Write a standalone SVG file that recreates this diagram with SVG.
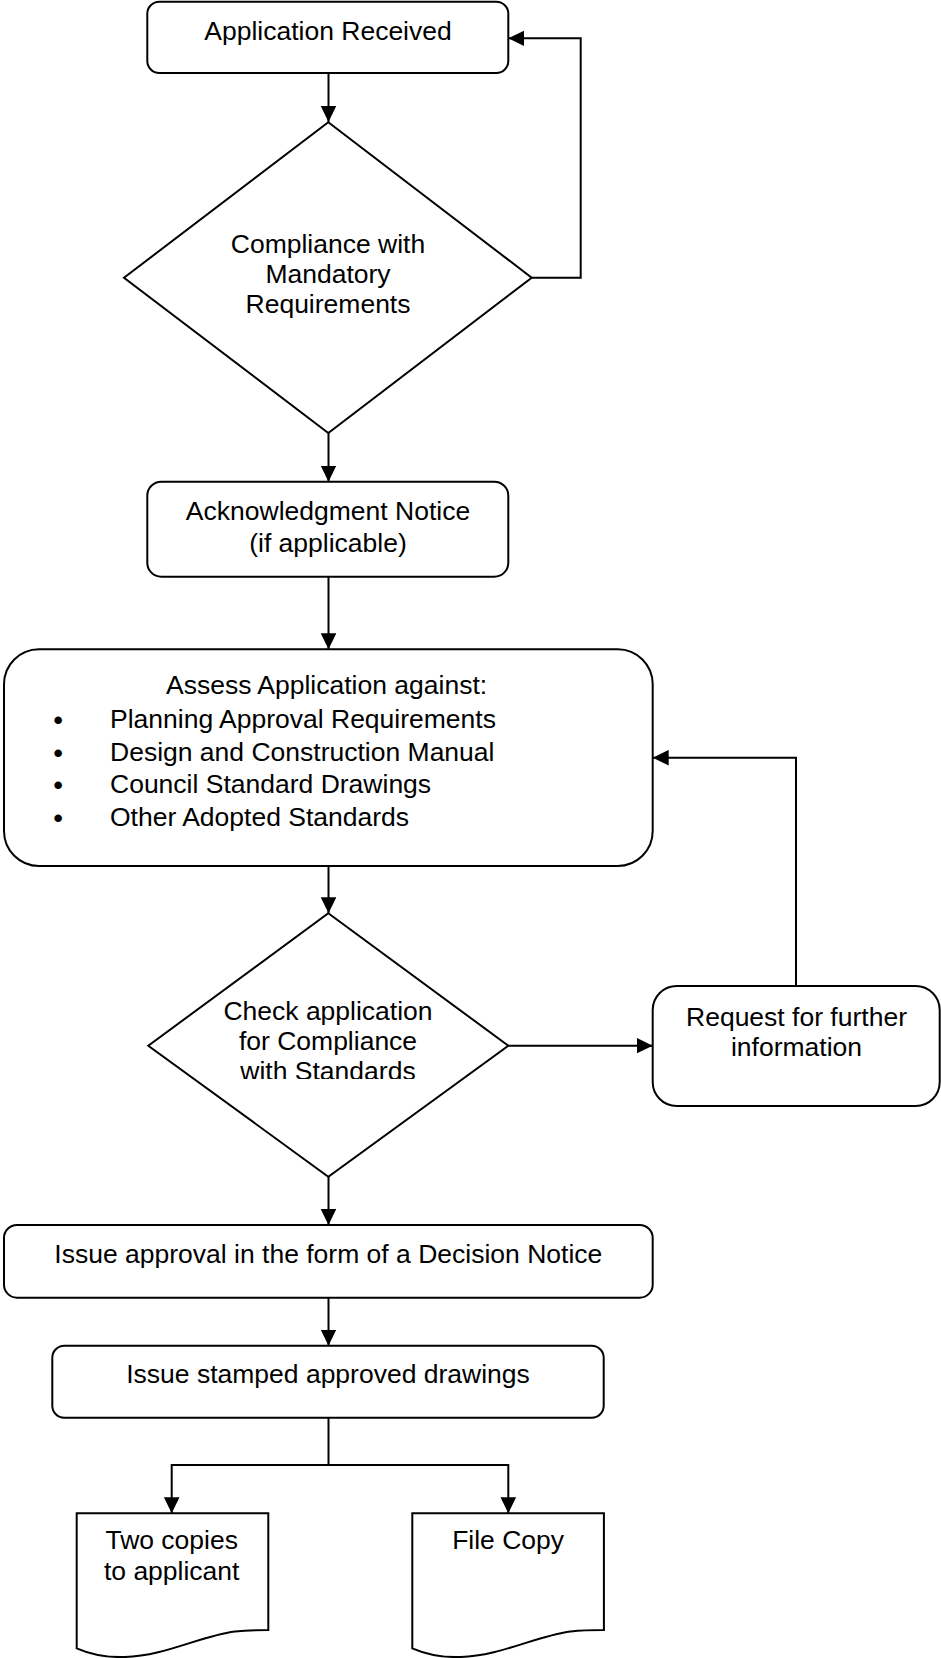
<svg xmlns="http://www.w3.org/2000/svg" width="941" height="1658" viewBox="0 0 941 1658">
<style>
.box{fill:#fff;stroke:#000;stroke-width:2}
.t{font-family:"Liberation Sans",Arial,sans-serif;font-size:26.5px;fill:#000}
.c{text-anchor:middle}
.b{font-weight:bold}
.ln{fill:none;stroke:#000;stroke-width:2}
</style>
<defs>
<marker id="ah" markerUnits="userSpaceOnUse" markerWidth="17" markerHeight="16" refX="16" refY="7.8" orient="auto">
<path d="M0,0 L16,7.8 L0,15.6 z" fill="#000"/>
</marker>
<clipPath id="dclip"><rect x="0" y="0" width="941" height="1079"/></clipPath>
</defs>
<rect width="941" height="1658" fill="#fff"/>
<g id="connectors">
<path class="ln" d="M328.5,73 V122" marker-end="url(#ah)"/>
<path class="ln" d="M531.7,277.7 H580.7 V38.3 H508.3" marker-end="url(#ah)"/>
<path class="ln" d="M328.5,433 V481.7" marker-end="url(#ah)"/>
<path class="ln" d="M328.5,576.7 V649.3" marker-end="url(#ah)"/>
<path class="ln" d="M328.5,866 V913.3" marker-end="url(#ah)"/>
<path class="ln" d="M508.3,1045.7 H652.7" marker-end="url(#ah)"/>
<path class="ln" d="M796,986 V757.7 H652.7" marker-end="url(#ah)"/>
<path class="ln" d="M328.5,1176.7 V1225" marker-end="url(#ah)"/>
<path class="ln" d="M328.5,1297.7 V1345.7" marker-end="url(#ah)"/>
<path class="ln" d="M328.5,1417.7 V1465"/>
<path class="ln" d="M328.5,1465 H171.7 V1513.3" marker-end="url(#ah)"/>
<path class="ln" d="M327.5,1465 H508.3 V1513.3" marker-end="url(#ah)"/>
</g>
<g id="n1">
<rect class="box" x="147.3" y="1.7" width="361" height="71.3" rx="12"/>
<text class="t c" x="328" y="40">Application Received</text>
</g>
<g id="n2">
<polygon class="box" points="328.3,122.3 531.7,277.7 328.3,433 124,277.7"/>
<text class="t c" x="328" y="253">Compliance with</text>
<text class="t c" x="328" y="283">Mandatory</text>
<text class="t c" x="328" y="313">Requirements</text>
</g>
<g id="n3">
<rect class="box" x="147.3" y="481.7" width="361" height="95" rx="14"/>
<text class="t c" x="328" y="520">Acknowledgment Notice</text>
<text class="t c" x="328" y="551.7">(if applicable)</text>
</g>
<g id="n4">
<rect class="box" x="4" y="649.3" width="648.7" height="216.7" rx="35"/>
<text class="t" x="166" y="694.3">Assess Application against:</text>
<text class="t" y="727.7"><tspan class="b" x="53.5" dy="1">•</tspan><tspan x="110" dy="-1">Planning Approval Requirements</tspan></text>
<text class="t" y="761"><tspan class="b" x="53.5" dy="1">•</tspan><tspan x="110" dy="-1">Design and Construction Manual</tspan></text>
<text class="t" y="792.7"><tspan class="b" x="53.5" dy="1">•</tspan><tspan x="110" dy="-1">Council Standard Drawings</tspan></text>
<text class="t" y="825.7"><tspan class="b" x="53.5" dy="1">•</tspan><tspan x="110" dy="-1">Other Adopted Standards</tspan></text>
</g>
<g id="n5">
<polygon class="box" points="328.3,913.3 508.3,1045.7 328.3,1176.7 148.3,1045.7"/>
<g clip-path="url(#dclip)">
<text class="t c" x="328" y="1020">Check application</text>
<text class="t c" x="328" y="1050">for Compliance</text>
<text class="t c" x="328" y="1080">with Standards</text>
</g>
</g>
<g id="n6">
<rect class="box" x="652.7" y="986" width="287" height="120" rx="24"/>
<text class="t c" x="796.5" y="1026">Request for further</text>
<text class="t c" x="796.5" y="1056">information</text>
</g>
<g id="n7">
<rect class="box" x="4" y="1225" width="648.7" height="72.7" rx="13"/>
<text class="t c" x="328.3" y="1263.3">Issue approval in the form of a Decision Notice</text>
</g>
<g id="n8">
<rect class="box" x="52.3" y="1345.7" width="551.4" height="72" rx="12"/>
<text class="t c" x="328" y="1383.3">Issue stamped approved drawings</text>
</g>
<g id="n9">
<path class="box" d="M76.7,1513.3 H268.3 V1630 C258,1630 248,1630 235,1631.5 C200,1636 165,1656 125,1657 C108,1657.5 92,1655 76.7,1648.3 Z"/>
<text class="t c" x="171.7" y="1549.3">Two copies</text>
<text class="t c" x="171.7" y="1580">to applicant</text>
</g>
<g id="n10">
<path class="box" d="M412.3,1513.3 H603.9 V1630 C593.6,1630 583.6,1630 570.6,1631.5 C535.6,1636 500.6,1656 460.6,1657 C443.6,1657.5 427.6,1655 412.3,1648.3 Z"/>
<text class="t c" x="508.1" y="1549.3">File Copy</text>
</g>
</svg>
